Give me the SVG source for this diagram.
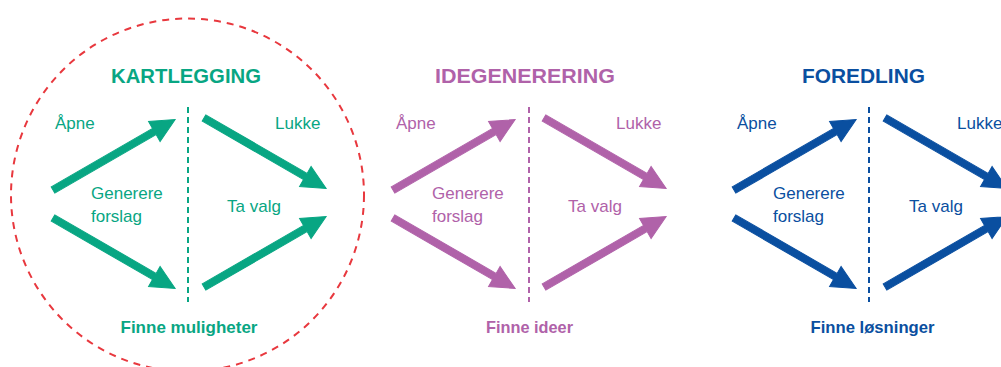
<svg xmlns="http://www.w3.org/2000/svg" xmlns:xlink="http://www.w3.org/1999/xlink" width="1001" height="367" viewBox="0 0 1001 367">
  <defs>
    <path id="arr" d="M0,-3.6 H117 V-11.5 L141,0 L117,11.5 V3.6 H0 Z"/>
    <style>
      .t { font-family: "Liberation Sans", Arial, sans-serif; font-size: 17px; }
      .h { font-family: "Liberation Sans", Arial, sans-serif; font-size: 20px; font-weight: bold; text-anchor: middle; }
      .f { font-family: "Liberation Sans", Arial, sans-serif; font-size: 16.5px; font-weight: bold; text-anchor: middle; }
      .div { stroke-width: 2; stroke-dasharray: 6 4; fill: none; }
      .green { fill: #08a683; stroke: #08a683; }
      .purple { fill: #b062a9; stroke: #b062a9; }
      .blue { fill: #0a4fa0; stroke: #0a4fa0; }
      text { stroke: none; }
    </style>
  </defs>
  <rect width="1001" height="367" fill="#ffffff"/>

  <circle id="highlight" cx="187.5" cy="195" r="176.5" fill="none" stroke="#e8383e" stroke-width="2" stroke-dasharray="7 6"/>

  <g id="kartlegging" class="green">
    <text class="h" x="186" y="83" textLength="150" lengthAdjust="spacingAndGlyphs">KARTLEGGING</text>
    <line class="div" x1="188" y1="107" x2="188" y2="302"/>
    <text class="t" x="55" y="129">Åpne</text>
    <text class="t" x="275" y="129">Lukke</text>
    <text class="t" x="91" y="199">Generere</text>
    <text class="t" x="91" y="222">forslag</text>
    <text class="t" x="227" y="212">Ta valg</text>
    <text class="f" x="189" y="333" textLength="137" lengthAdjust="spacingAndGlyphs">Finne muligheter</text>
  </g>

  <g id="idegenerering" class="purple" transform="translate(341,0)">
    <text class="h" x="184" y="83" textLength="180" lengthAdjust="spacingAndGlyphs">IDEGENERERING</text>
    <line class="div" x1="188" y1="107" x2="188" y2="302"/>
    <text class="t" x="55" y="129">Åpne</text>
    <text class="t" x="275" y="129">Lukke</text>
    <text class="t" x="91" y="199">Generere</text>
    <text class="t" x="91" y="222">forslag</text>
    <text class="t" x="227" y="212">Ta valg</text>
    <text class="f" x="188.5" y="333" textLength="87" lengthAdjust="spacingAndGlyphs">Finne ideer</text>
  </g>

  <g id="foredling" class="blue" transform="translate(682,0)">
    <text class="h" x="181.5" y="83" textLength="123" lengthAdjust="spacingAndGlyphs">FOREDLING</text>
    <line class="div" x1="187" y1="107" x2="187" y2="302"/>
    <text class="t" x="55" y="129">Åpne</text>
    <text class="t" x="275" y="129">Lukke</text>
    <text class="t" x="91" y="199">Generere</text>
    <text class="t" x="91" y="222">forslag</text>
    <text class="t" x="227" y="212">Ta valg</text>
    <text class="f" x="190.5" y="333" textLength="124" lengthAdjust="spacingAndGlyphs">Finne løsninger</text>
  </g>

  <g id="connectors">
    <g class="green">
      <use xlink:href="#arr" transform="translate(53,190) rotate(-30)"/>
      <use xlink:href="#arr" transform="translate(53,218) rotate(30)"/>
      <use xlink:href="#arr" transform="translate(204,118) rotate(30)"/>
      <use xlink:href="#arr" transform="translate(204,287) rotate(-30)"/>
    </g>
    <g class="purple" transform="translate(340,0)">
      <use xlink:href="#arr" transform="translate(53,190) rotate(-30)"/>
      <use xlink:href="#arr" transform="translate(53,218) rotate(30)"/>
      <use xlink:href="#arr" transform="translate(204,118) rotate(30)"/>
      <use xlink:href="#arr" transform="translate(204,287) rotate(-30)"/>
    </g>
    <g class="blue" transform="translate(681,0)">
      <use xlink:href="#arr" transform="translate(53,190) rotate(-30)"/>
      <use xlink:href="#arr" transform="translate(53,218) rotate(30)"/>
      <use xlink:href="#arr" transform="translate(204,118) rotate(30)"/>
      <use xlink:href="#arr" transform="translate(204,287) rotate(-30)"/>
    </g>
  </g>
</svg>
